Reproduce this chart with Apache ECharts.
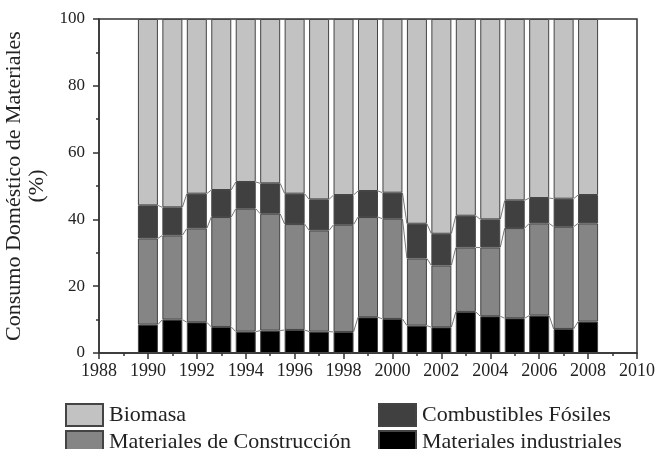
<!DOCTYPE html>
<html>
<head>
<meta charset="utf-8">
<script src="https://cdn.jsdelivr.net/npm/echarts@6/dist/echarts.min.js"></script>
<style>
  html, body { margin: 0; padding: 0; background: #fff; }
  #chart { width: 657px; height: 449px; }
</style>
</head>
<body>
<div id="chart"></div>
<script>
const years = [1988, 1989, 1990, 1991, 1992, 1993, 1994, 1995, 1996, 1997, 1998, 1999,
  2000, 2001, 2002, 2003, 2004, 2005, 2006, 2007, 2008, 2009, 2010]
// porcentajes por segmento, de abajo hacia arriba (sin datos en 1988, 1989, 2009, 2010)
const industriales = [null, null, 8.5, 10.0, 9.2, 7.8, 6.4, 6.7, 6.9, 6.4, 6.3, 10.7,
  10.2, 8.2, 7.7, 12.3, 11.0, 10.4, 11.2, 7.2, 9.4, null, null]
const construccion = [null, null, 25.8, 25.2, 28.1, 32.9, 36.8, 35.0, 31.7, 30.3, 32.1, 30.0,
  30.0, 20.1, 18.5, 19.3, 20.6, 27.0, 27.6, 30.6, 29.4, null, null]
const fosiles = [null, null, 9.9, 8.4, 10.4, 8.1, 8.0, 9.1, 9.1, 9.3, 8.9, 7.8,
  7.8, 10.4, 9.5, 9.5, 8.4, 8.3, 7.6, 8.4, 8.5, null, null]
const biomasa = [null, null, 55.8, 56.4, 52.3, 51.2, 48.8, 49.2, 52.3, 54.0, 52.7, 51.5,
  52.0, 61.3, 64.3, 58.9, 60.0, 54.3, 53.6, 53.8, 52.7, null, null]

const font = 'Liberation Serif'
const ink = '#333'
const barW = 20

// líneas que unen los límites de cada segmento entre barras vecinas
const links = []
years.forEach((y, i) => {
  if (industriales[i] == null || industriales[i + 1] == null) return
  const a1 = industriales[i], a2 = a1 + construccion[i], a3 = a2 + fosiles[i]
  const b1 = industriales[i + 1], b2 = b1 + construccion[i + 1], b3 = b2 + fosiles[i + 1]
  links.push([i, a1, a2, a3, b1, b2, b3])
})

function barSeries(name, data, color) {
  return {
    name: name,
    type: 'bar',
    stack: 'total',
    xAxisIndex: 1,
    barWidth: barW,
    data: data,
    itemStyle: { color: color, borderColor: '#444', borderWidth: 1 },
    animation: false
  }
}

function legendAt(name, left, top) {
  return {
    data: [name], left: left, top: top,
    itemWidth: 37, itemHeight: 22, itemGap: 0, icon: 'rect',
    selectedMode: false,
    textStyle: { fontFamily: font, fontSize: 22, color: '#222', padding: [0, 0, 0, 1] }
  }
}

const chart = echarts.init(document.getElementById('chart'))
chart.setOption({
  grid: {
    left: 99, right: 20, top: 19, bottom: 96,
    outerBoundsMode: 'none',
    show: true, borderColor: ink, borderWidth: 1.5, backgroundColor: 'transparent'
  },
  legend: [
    legendAt('Biomasa', 60, 398),
    legendAt('Combustibles Fósiles', 373, 398),
    legendAt('Materiales de Construcción', 60, 425),
    legendAt('Materiales industriales', 373, 425)
  ],
  xAxis: [{
    type: 'value',
    min: 1988, max: 2010, interval: 2,
    axisLine: { onZero: false, lineStyle: { color: ink, width: 1.5 } },
    axisTick: { length: 6, lineStyle: { color: ink, width: 1.5 } },
    minorTick: { show: true, splitNumber: 2, length: 3, lineStyle: { color: ink, width: 1.5 } },
    splitLine: { show: false },
    axisLabel: { fontFamily: font, fontSize: 18, color: '#222', margin: 9, formatter: v => String(v) }
  }, {
    type: 'category',
    data: years,
    boundaryGap: false,
    show: false
  }],
  yAxis: {
    type: 'value',
    min: 0, max: 100, interval: 20,
    name: 'Consumo Doméstico de Materiales\n(%)',
    nameLocation: 'middle',
    nameGap: 48,
    nameTextStyle: { fontFamily: font, fontSize: 22, color: '#222', lineHeight: 23 },
    axisLine: { show: true, lineStyle: { color: ink, width: 1.5 } },
    axisTick: { show: true, length: 6, lineStyle: { color: ink, width: 1.5 } },
    minorTick: { show: true, splitNumber: 2, length: 3, lineStyle: { color: ink, width: 1.5 } },
    splitLine: { show: false },
    axisLabel: { fontFamily: font, fontSize: 17, color: '#222', margin: 14 }
  },
  series: [
    barSeries('Materiales industriales', industriales, '#000000'),
    barSeries('Materiales de Construcción', construccion, '#858585'),
    barSeries('Combustibles Fósiles', fosiles, '#404040'),
    barSeries('Biomasa', biomasa, '#c2c2c2'),
    {
      type: 'custom',
      xAxisIndex: 1,
      data: links,
      silent: true,
      animation: false,
      renderItem: (params, api) => {
        const i = api.value(0)
        const children = []
        for (let k = 1; k <= 3; k++) {
          const p = api.coord([i, api.value(k)])
          const q = api.coord([i + 1, api.value(k + 3)])
          children.push({
            type: 'line',
            shape: { x1: p[0] + barW / 2, y1: p[1], x2: q[0] - barW / 2, y2: q[1] },
            style: { stroke: '#777', lineWidth: 1 }
          })
        }
        return { type: 'group', children: children }
      }
    }
  ]
})
</script>
</body>
</html>
